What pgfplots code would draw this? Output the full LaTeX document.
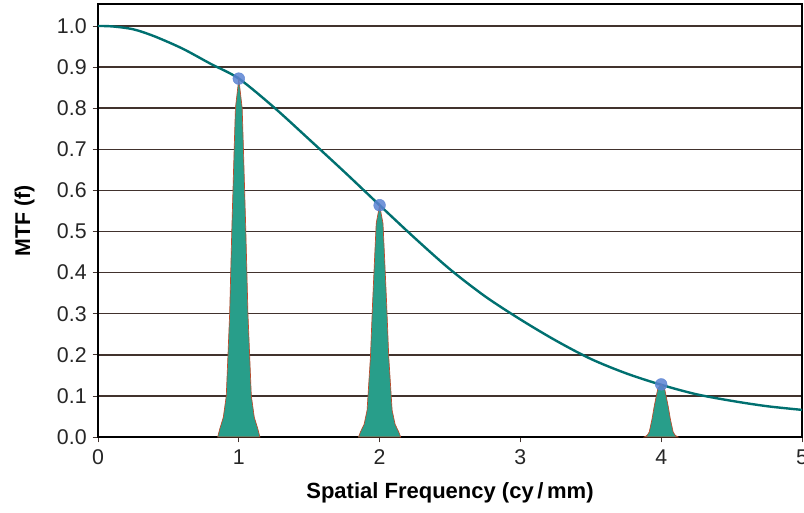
\documentclass[border=0pt]{standalone}
\usepackage{pgfplots}
\pgfplotsset{compat=1.18}
\usepackage{fontspec}
\setmainfont{Liberation Sans}
\usetikzlibrary{calc}
\definecolor{curvec}{RGB}{0,112,112}
\definecolor{peakfill}{RGB}{40,158,138}
\definecolor{peakedge}{RGB}{185,75,45}
\definecolor{dotc}{RGB}{90,130,210}
\definecolor{gridc}{RGB}{65,50,45}
\begin{document}
\begin{tikzpicture}
\begin{axis}[name=ax, scale only axis, width=528pt, height=324.75pt,
  xmin=0, xmax=5, ymin=0, ymax=1.0535,
  xtick={0,1,2,3,4,5}, xticklabels={0,1,2,3,4,5},
  ytick={0,0.1,0.2,0.3,0.4,0.5,0.6,0.7,0.8,0.9,1.0},
  yticklabels={0.0,0.1,0.2,0.3,0.4,0.5,0.6,0.7,0.8,0.9,1.0},
  tick align=outside, major tick length=4pt,
  tick style={gridc, line width=0.6pt},
  xtick pos=bottom, ytick pos=left,
  ymajorgrids, major grid style={gridc, line width=1.1pt},
  axis line style={black, line width=1.6pt},
  ticklabel style={font=\fontsize{16}{19}\selectfont, text=black!85},
  xticklabel style={yshift=-2pt},
  yticklabel style={xshift=-1pt},
  xlabel={Spatial Frequency (cy\,/\,mm)},
  ylabel={MTF (f)},
  every axis x label/.style={at={(rel axis cs:0.5,0)}, yshift=-42pt, anchor=center, font=\fontsize{16.5}{19}\selectfont\bfseries},
  every axis y label/.style={at={(rel axis cs:0,0.5)}, xshift=-55pt, rotate=90, anchor=center, font=\fontsize{16}{19}\selectfont\bfseries},
  clip=true,
]
% MTF curve
\addplot[curvec, line width=1.8pt, smooth] coordinates {
(0,1.0) (0.1,0.999) (0.25,0.992) (0.4,0.975) (0.6,0.945) (0.8,0.908) (1.0,0.872) (1.25,0.802)
(1.5,0.724) (1.75,0.645) (2.0,0.564) (2.25,0.484) (2.5,0.408) (2.75,0.342)
(3.0,0.286) (3.25,0.235) (3.5,0.190) (3.75,0.155) (4.0,0.127) (4.25,0.104)
(4.5,0.088) (4.75,0.075) (5.0,0.066)};
% sample points
\addplot[only marks, mark=*, mark size=4.4pt, mark options={fill=dotc, draw=dotc, opacity=0.85}] coordinates {(1,0.872) (2,0.564) (4,0.128)};
% peaks
\addplot[fill=peakfill, draw=peakedge, line width=0.5pt] coordinates {
(0.85,0) (0.865,0.02) (0.89,0.048) (0.911,0.10) (0.935,0.30) (0.95,0.50) (0.967,0.70) (0.976,0.80)
(1,0.872) (1.024,0.80) (1.033,0.70) (1.05,0.50) (1.065,0.30) (1.089,0.10) (1.11,0.048) (1.135,0.02) (1.15,0)} -- cycle;
\addplot[fill=peakfill, draw=peakedge, line width=0.5pt] coordinates {
(1.85,0) (1.865,0.013) (1.89,0.031) (1.911,0.065) (1.935,0.195) (1.95,0.325) (1.967,0.455) (1.976,0.52)
(2,0.564) (2.024,0.52) (2.033,0.455) (2.05,0.325) (2.065,0.195) (2.089,0.065) (2.11,0.031) (2.135,0.013) (2.15,0)} -- cycle;
\addplot[fill=peakfill, draw=peakedge, line width=0.5pt] coordinates {
(3.88,0) (3.9,0.004) (3.915,0.012) (3.935,0.044) (3.95,0.074) (3.967,0.103) (3.976,0.118)
(4,0.128) (4.024,0.118) (4.033,0.103) (4.05,0.074) (4.065,0.044) (4.085,0.012) (4.1,0.004) (4.12,0)} -- cycle;
\end{axis}
\pgfresetboundingbox
\path[use as bounding box] ($(ax.south west)+(-73.5pt,-56.25pt)$) rectangle ($(ax.north east)+(1.5pt,3pt)$);
\end{tikzpicture}
\end{document}
